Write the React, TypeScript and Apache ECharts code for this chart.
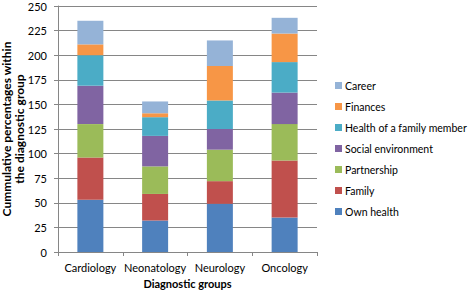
import React, { useEffect, useRef } from "react";
import * as echarts from "echarts";

const categories = ["Cardiology", "Neonatology", "Neurology", "Oncology"];
const seriesNames = [
  "Own health",
  "Family",
  "Partnership",
  "Social environment",
  "Health of a family member",
  "Finances",
  "Career",
];
const ownHealth = [53, 32, 49, 35];
const family = [43, 27, 23, 58];
const partnership = [34, 28, 32, 37];
const socialEnvironment = [39, 31, 21, 32];
const healthFamilyMember = [31, 19, 29, 31];
const finances = [11, 4, 35, 29];
const career = [24, 12, 26, 16];
const yTicks = [0, 25, 50, 75, 100, 125, 150, 175, 200, 225, 250];

const seriesValues = [
  ownHealth,
  family,
  partnership,
  socialEnvironment,
  healthFamilyMember,
  finances,
  career,
];
const colors = ["#4F81BD", "#C0504D", "#9BBB59", "#8064A2", "#4BACC6", "#F79646", "#95B3D7"];

const FONT = "Lato, 'Open Sans', sans-serif";

export default function App() {
  const ref = useRef<HTMLDivElement>(null);
  useEffect(() => {
    document.body.style.margin = "0";
    if (!ref.current) return;
    const chart = echarts.init(ref.current, null, { renderer: "svg" });
    chart.setOption({
      animation: false,
      textStyle: { fontFamily: FONT },
      grid: {
        left: 58,
        right: 156,
        top: 6,
        bottom: 39,
        containLabel: false,
        outerBoundsMode: "none",
      },
      legend: {
        orient: "vertical",
        left: 335,
        top: 80,
        padding: 0,
        itemWidth: 7,
        itemHeight: 7,
        itemGap: 10,
        icon: "rect",
        data: [...seriesNames].reverse(),
        textStyle: { fontFamily: FONT, fontSize: 10.5, color: "#000", padding: [0, 0, 0, -2] },
      },
      xAxis: {
        type: "category",
        data: categories,
        name: "Diagnostic groups",
        nameLocation: "middle",
        nameGap: 26,
        nameMoveOverlap: false,
        nameTextStyle: { fontFamily: FONT, fontSize: 11, fontWeight: "bold", color: "#000" },
        axisLine: { lineStyle: { color: "#868686" } },
        axisTick: { show: true, length: 4, lineStyle: { color: "#868686" } },
        axisLabel: { fontFamily: FONT, fontSize: 11, color: "#000", margin: 10, interval: 0 },
      },
      yAxis: {
        type: "value",
        min: yTicks[0],
        max: yTicks[yTicks.length - 1],
        interval: 25,
        name: "Cummulative percentages within\nthe diagnostic group",
        nameLocation: "middle",
        nameGap: 32,
        nameMoveOverlap: false,
        nameTextStyle: { fontFamily: FONT, fontSize: 12, fontWeight: "bold", color: "#000", lineHeight: 13 },
        axisLine: { show: true, lineStyle: { color: "#868686" } },
        axisTick: { show: true, length: 4, inside: false, lineStyle: { color: "#868686" } },
        axisLabel: { fontFamily: FONT, fontSize: 11, color: "#000", margin: 11 },
        splitLine: { lineStyle: { color: "#868686" } },
      },
      series: seriesNames.map((name, i) => ({
        name,
        type: "bar",
        stack: "total",
        barWidth: 26,
        data: seriesValues[i],
        itemStyle: { color: colors[i] },
      })),
    });
    return () => chart.dispose();
  }, []);
  return <div ref={ref} style={{ width: 473, height: 291 }} />;
}
